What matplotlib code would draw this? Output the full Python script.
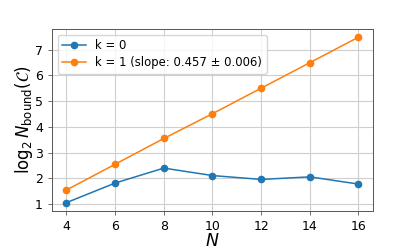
import matplotlib
matplotlib.use("Agg")
import matplotlib.pyplot as plt

N = [4, 6, 8, 10, 12, 14, 16]
k0 = [1.06, 1.82, 2.40, 2.11, 1.96, 2.06, 1.78]
k1 = [1.55, 2.55, 3.55, 4.51, 5.50, 6.49, 7.48]
labels = ["k = 0", "k = 1 (slope: 0.457 ± 0.006)"]

fig = plt.figure(figsize=(4.15, 2.49), dpi=100)
ax = fig.add_axes([0.125, 0.153, 0.774, 0.731])
ax.plot(N, k0, "o-", color="#1f77b4", lw=1.1, ms=4.5, label=labels[0])
ax.plot(N, k1, "o-", color="#ff7f0e", lw=1.1, ms=4.5, label=labels[1])
ax.grid(True, color="#cfcfcf", lw=0.8)
ax.set_xticks(N)
ax.set_yticks([1, 2, 3, 4, 5, 6, 7])
ax.tick_params(labelsize=9, width=0.6, length=3, color="#555555")
for s in ax.spines.values():
    s.set_linewidth(0.7)
    s.set_color("#555555")
ax.set_xlabel(r"$N$", fontsize=12.5, labelpad=-1)
ax.set_ylabel(r"$\log_2 N_{\mathrm{bound}}(\mathcal{C})$", fontsize=12, labelpad=0)
ax.legend(loc="upper left", fontsize=8.4, handlelength=2.0, borderpad=0.4, labelspacing=0.3)
fig.savefig("out.png", dpi=100)
